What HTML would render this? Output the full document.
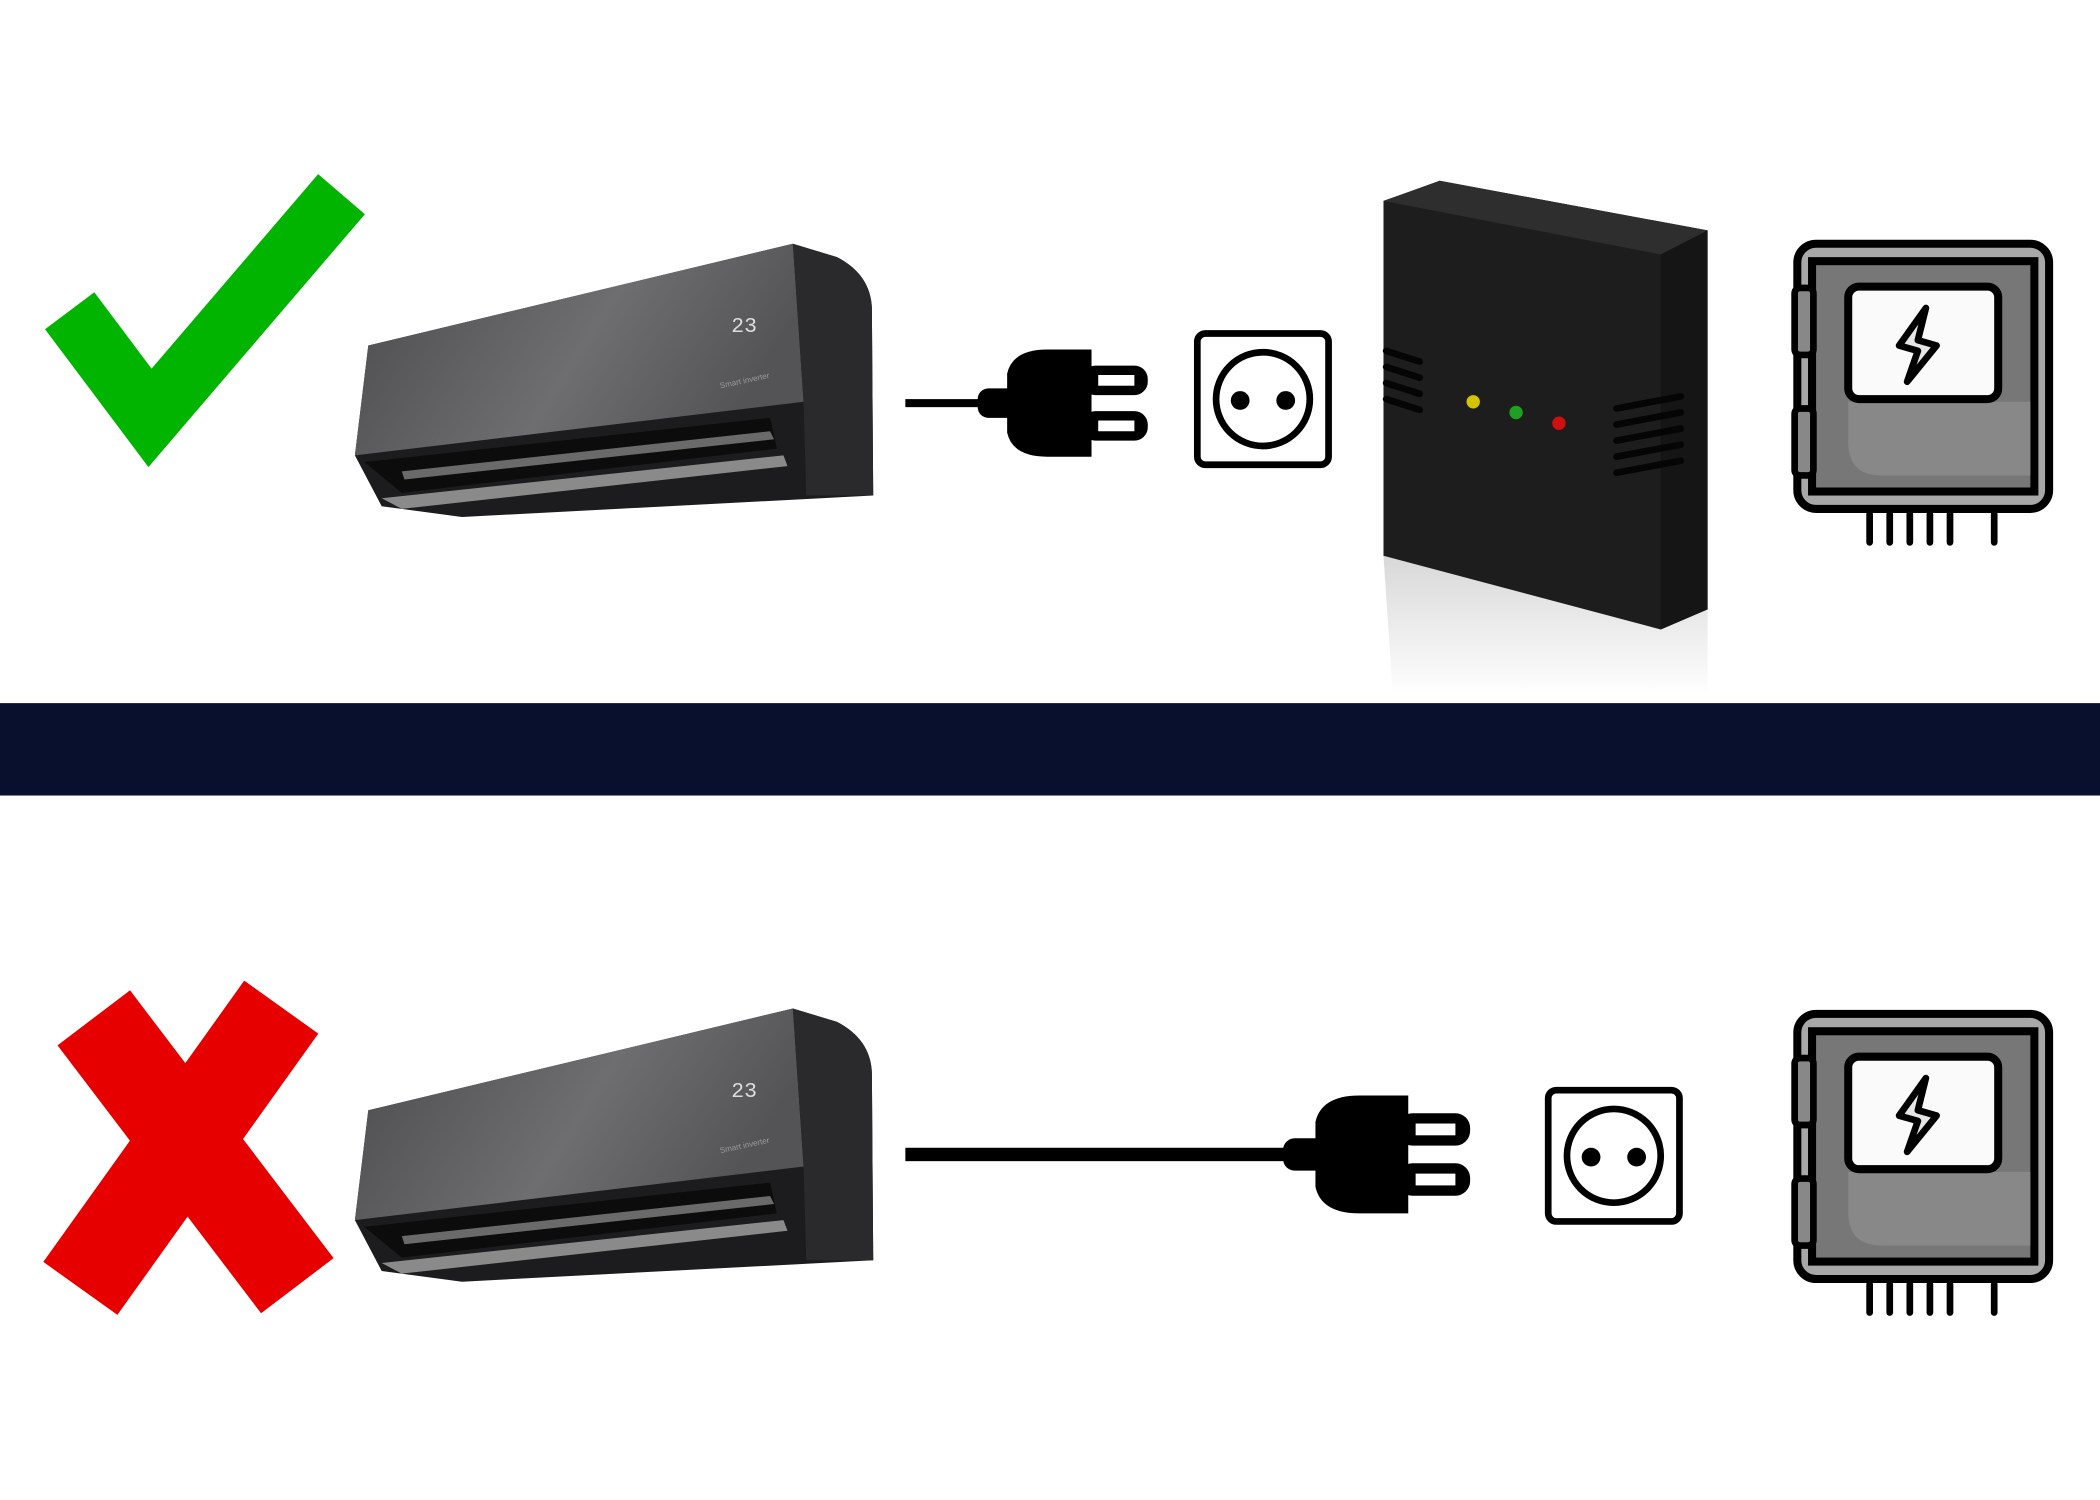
<!DOCTYPE html>
<html><head><meta charset="utf-8"><style>html,body{margin:0;padding:0;background:#fff}svg{display:block}</style></head>
<body>
<svg width="2100" height="1500" viewBox="0 0 1568 1120" xmlns="http://www.w3.org/2000/svg">
<defs>
<linearGradient id="front" x1="0" y1="0" x2="1" y2="0.3">
<stop offset="0" stop-color="#4a4a4c"/><stop offset="0.6" stop-color="#6e6e70"/><stop offset="1" stop-color="#545456"/></linearGradient>
<linearGradient id="refl" x1="0" y1="0" x2="0" y2="1">
<stop offset="0" stop-color="#d8d8d8"/><stop offset="1" stop-color="#ffffff"/></linearGradient>
<g id="ac">
<path d="M275,258 L592,182 L625,192 Q650,205 651,230 L652,370 L345,386 L285,378 L265,340 Z" fill="#1c1c1e"/>
<path d="M275,258 L592,182 L600,300 L265,340 Z" fill="url(#front)"/>
<path d="M592,182 L625,192 Q650,205 651,230 L652,370 L602,370 L600,300 Z" fill="#2a2a2c"/>
<path d="M272,345 L575,312 L580,335 L300,368 Z" fill="#0c0c0c"/>
<path d="M300,352 L575,322 L578,328 L302,358 Z" fill="#6a6a6a"/>
<path d="M285,372 L585,340 L588,348 L300,380 Z" fill="#8a8a8a"/>
<text x="546" y="248" font-family="Liberation Mono, monospace" font-size="16" fill="#ddd">23</text>
<text x="538" y="290" font-family="Liberation Sans, sans-serif" font-size="6" fill="#999" transform="rotate(-12 538 290)">Smart inverter</text>
</g>
<g id="meter">
<rect x="1342" y="182" width="188" height="198" rx="14" fill="#a8a8a8" stroke="#000" stroke-width="6"/>
<rect x="1353" y="195" width="166" height="172" fill="#777" stroke="#000" stroke-width="6"/>
<path d="M1380,300 L1380,330 Q1380,355 1405,355 L1516,355 L1516,300 Z" fill="#888"/>
<rect x="1380" y="214" width="112" height="84" rx="8" fill="#fafafa" stroke="#000" stroke-width="6"/>
<path d="M1438,230 L1418,258 L1432,262 L1424,285 L1446,258 L1432,254 Z" fill="#e6e6e6" stroke="#000" stroke-width="5" stroke-linejoin="round"/>
<rect x="1340" y="215" width="14" height="50" rx="4" fill="#888" stroke="#000" stroke-width="5"/>
<rect x="1340" y="305" width="14" height="50" rx="4" fill="#888" stroke="#000" stroke-width="5"/>
<g stroke="#000" stroke-width="5" stroke-linecap="round">
<line x1="1396" y1="384" x2="1396" y2="405"/><line x1="1411" y1="384" x2="1411" y2="405"/><line x1="1426" y1="384" x2="1426" y2="405"/><line x1="1441" y1="384" x2="1441" y2="405"/><line x1="1456" y1="384" x2="1456" y2="405"/><line x1="1489" y1="384" x2="1489" y2="405"/></g>
</g>
<g id="socket">
<rect x="0" y="0" width="98" height="98" rx="6" fill="#fff" stroke="#000" stroke-width="5"/>
<circle cx="49" cy="49" r="35" fill="none" stroke="#000" stroke-width="5"/>
<circle cx="32" cy="50" r="7" fill="#000"/><circle cx="66" cy="50" r="7" fill="#000"/>
</g>
<g id="plug">
<rect x="0" y="-11" width="30" height="22" rx="8" fill="#000"/>
<path d="M22,-22 Q26,-40 52,-40 L85,-40 L85,40 L52,40 Q26,40 22,22 Z" fill="#000"/>
<rect x="78" y="-28" width="49" height="22" rx="10" fill="#000"/>
<rect x="78" y="6" width="49" height="22" rx="10" fill="#000"/>
<rect x="90" y="-21" width="27" height="8" fill="#fff"/>
<rect x="90" y="13" width="27" height="8" fill="#fff"/>
</g>
</defs>

<!-- top row -->
<path d="M52,232 L112,312 L255,145" fill="none" stroke="#00b400" stroke-width="46" stroke-linejoin="miter" stroke-linecap="butt"/>
<use href="#ac"/>
<rect x="676" y="298" width="60" height="6" fill="#000"/>
<use href="#plug" transform="translate(730,301)"/>
<use href="#socket" transform="translate(894,249)"/>
<path d="M1033,415 L1240,470 L1275,455 L1275,520 L1040,520 Z" fill="url(#refl)"/>
<path d="M1033,150 L1075,135 L1275,172 L1275,455 L1240,470 L1033,415 Z" fill="#1d1d1d"/>
<path d="M1033,150 L1075,135 L1275,172 L1240,190 Z" fill="#2e2e2e"/>
<path d="M1240,190 L1275,172 L1275,455 L1240,470 Z" fill="#151515"/>
<g stroke="#050505" stroke-width="5" stroke-linecap="round">
<line x1="1035" y1="262" x2="1060" y2="270"/><line x1="1035" y1="274" x2="1060" y2="282"/><line x1="1035" y1="286" x2="1060" y2="294"/><line x1="1035" y1="298" x2="1060" y2="306"/>
<line x1="1207" y1="305" x2="1255" y2="296"/><line x1="1207" y1="317" x2="1255" y2="308"/><line x1="1207" y1="329" x2="1255" y2="320"/><line x1="1207" y1="341" x2="1255" y2="332"/><line x1="1207" y1="353" x2="1255" y2="344"/></g>
<circle cx="1100" cy="300" r="5" fill="#d4c400"/>
<circle cx="1132" cy="308" r="5" fill="#20a020"/>
<circle cx="1164" cy="316" r="5" fill="#d01010"/>
<use href="#meter"/>

<!-- band -->
<rect x="0" y="525" width="1568" height="69" fill="#08102e"/>

<!-- bottom row -->
<g stroke="#e60000" stroke-width="68" stroke-linecap="butt">
<line x1="70" y1="760" x2="222" y2="960"/><line x1="210" y1="752" x2="60" y2="962"/></g>
<use href="#ac" transform="translate(0,571)"/>
<rect x="676" y="857" width="290" height="10" fill="#000"/>
<use href="#plug" transform="translate(958,862) scale(1.1)"/>
<use href="#socket" transform="translate(1156,814)"/>
<use href="#meter" transform="translate(0,575)"/>
</svg>
</body></html>
